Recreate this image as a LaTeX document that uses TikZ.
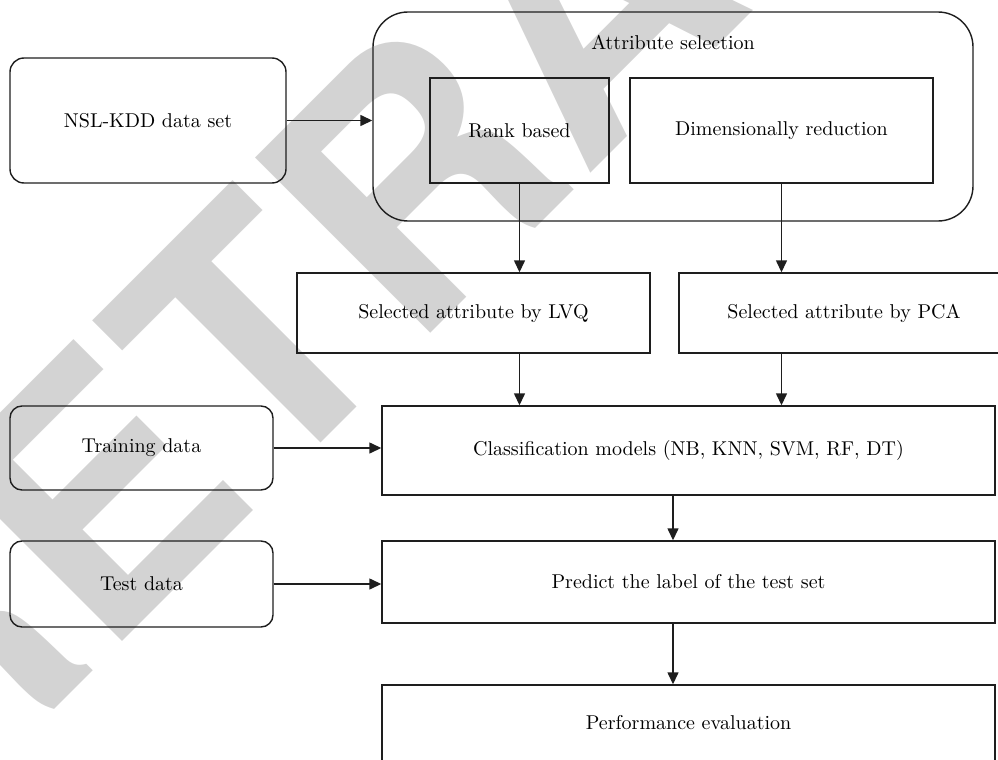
\documentclass[tikz,border=0pt]{standalone}
\usepackage{fontspec}
\newfontfamily\wmfont{TeX Gyre Heros}
\usetikzlibrary{arrows.meta}
\definecolor{wmgray}{RGB}{211,211,211}
\definecolor{linegray}{RGB}{30,30,30}

\begin{document}
\begin{tikzpicture}[x=0.5pt,y=-0.5pt,>={Triangle[length=6pt,width=5.5pt]},
        every node/.style={font=\fontsize{10}{12}\selectfont},
        roundbox/.style={draw=linegray,line width=0.7pt,rounded corners=7pt,inner sep=0pt},
        sqbox/.style={draw=linegray,line width=0.7pt,inner sep=0pt},
        conn/.style={->,draw=linegray,line width=0.7pt}]
        \clip (0,0) rectangle (998,760);
        % watermark behind everything
        \node[text=wmgray,rotate=45,anchor=base west,inner sep=0pt,font=\wmfont\bfseries\fontsize{170}{170}\selectfont] (wm) at (-70,834) {RETRACTED};
        % input and attribute selection
        \node[roundbox,minimum width=138pt,minimum height=62.5pt] (nsl) at (148,120.5) {NSL-KDD data set};
        \node[roundbox,rounded corners=17.5pt,minimum width=300pt,minimum height=104.5pt] (attsel) at (673,116.5) {};
        \node (attname) at (673,42) {Attribute selection};
        \node[sqbox,minimum width=89.5pt,minimum height=52.5pt] (rank) at (519.5,130.5) {Rank based};
        \node[sqbox,minimum width=151.5pt,minimum height=52.5pt] (dimred) at (781.5,130.5) {Dimensionally reduction};
        \node[sqbox,minimum width=176.5pt,minimum height=40pt] (lvq) at (473.5,313) {Selected attribute by LVQ};
        \node[sqbox,minimum width=165pt,minimum height=40pt] (pca) at (844,313) {Selected attribute by PCA};
        % classification part
        \node[roundbox,rounded corners=6pt,minimum width=131.5pt,minimum height=42pt] (train) at (141.5,448) {Training data};
        \node[roundbox,rounded corners=6pt,minimum width=131.5pt,minimum height=43pt] (test) at (141.5,584) {Test data};
        \node[sqbox,minimum width=306.5pt,minimum height=44.5pt] (cls) at (688.5,450.5) {Classification models (NB, KNN, SVM, RF, DT)};
        \node[sqbox,minimum width=306.5pt,minimum height=41pt] (pred) at (688.5,582) {Predict the label of the test set};
        \node[sqbox,minimum width=306.5pt,minimum height=38pt] (perf) at (688.5,723) {Performance evaluation};
        % arrows
        \draw[conn] (nsl.east) -- (nsl.east -| attsel.west);
        \draw[conn] (rank.south) -- (rank.south |- lvq.north);
        \draw[conn] (dimred.south) -- (dimred.south |- pca.north);
        \draw[conn] (lvq.south -| rank.south) -- (cls.north -| rank.south);
        \draw[conn] (pca.south -| dimred.south) -- (cls.north -| dimred.south);
        \draw[conn] (train.east) -- (train.east -| cls.west);
        \draw[conn] (test.east) -- (test.east -| pred.west);
        \draw[conn] ([xshift=-7.75pt]cls.south) -- ([xshift=-7.75pt]pred.north);
        \draw[conn] ([xshift=-7.75pt]pred.south) -- ([xshift=-7.75pt]perf.north);
\end{tikzpicture}
\end{document}
